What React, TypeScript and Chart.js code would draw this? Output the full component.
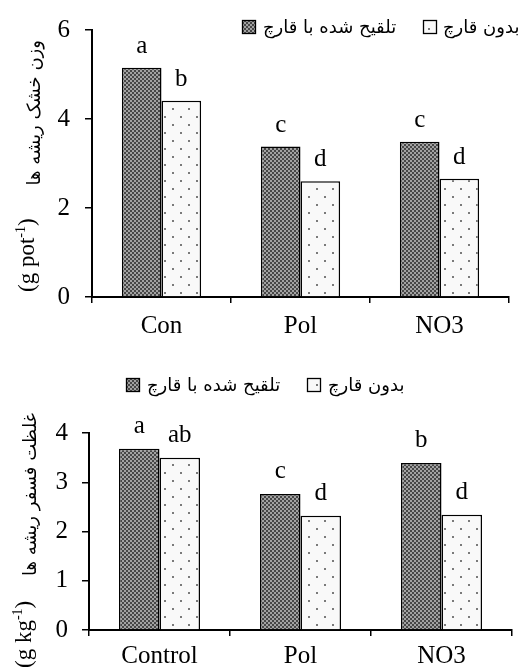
import React, { useEffect, useRef } from "react";
import { Chart, registerables } from "chart.js";

Chart.register(...registerables);

// Series names (legend)
const inoculatedName = "تلقیح شده با قارچ";
const uninoculatedName = "بدون قارچ";

// Upper panel: root dry weight (g pot-1)
const dryWeightCategories = ["Con", "Pol", "NO3"];
const dryWeightInoculated = [5.15, 3.38, 3.49];
const dryWeightUninoculated = [4.41, 2.6, 2.66];
const dryWeightLettersInoculated = ["a", "c", "c"];
const dryWeightLettersUninoculated = ["b", "d", "d"];
const dryWeightTitle = "وزن خشک ریشه ها";
const dryWeightUnit = ["(g pot", "-1", ")"];

// Lower panel: root phosphorus concentration (g kg-1)
const phosphorusCategories = ["Control", "Pol", "NO3"];
const phosphorusInoculated = [3.68, 2.76, 3.39];
const phosphorusUninoculated = [3.5, 2.32, 2.34];
const phosphorusLettersInoculated = ["a", "c", "b"];
const phosphorusLettersUninoculated = ["ab", "d", "d"];
const phosphorusTitle = "غلظت فسفر ریشه ها";
const phosphorusUnit = ["(g kg", "-1", ")"];

const SERIF = '"Liberation Serif", "Times New Roman", serif';
const SANS = '"DejaVu Sans", Tahoma, sans-serif';

function checkerPattern(ctx: CanvasRenderingContext2D) {
  const c = document.createElement("canvas");
  c.width = 4;
  c.height = 4;
  const g = c.getContext("2d")!;
  g.fillStyle = "#a2a2a2";
  g.fillRect(0, 0, 4, 4);
  g.fillStyle = "#474747";
  g.fillRect(0, 0, 2, 2);
  g.fillRect(2, 2, 2, 2);
  return ctx.createPattern(c, "repeat")!;
}

function dotPattern(ctx: CanvasRenderingContext2D) {
  const c = document.createElement("canvas");
  c.width = 16;
  c.height = 16;
  const g = c.getContext("2d")!;
  g.fillStyle = "#f9f9f9";
  g.fillRect(0, 0, 16, 16);
  g.fillStyle = "#7a7a7a";
  g.fillRect(4, 4, 2, 2);
  g.fillRect(12, 12, 2, 2);
  return ctx.createPattern(c, "repeat")!;
}

type PanelSpec = {
  categories: string[];
  inoculated: number[];
  uninoculated: number[];
  lettersInoculated: string[];
  lettersUninoculated: string[];
  title: string;
  unit: string[];
  yMax: number;
  step: number;
  pad: { top: number; right: number };
  yWidth: number;
  xHeight: number;
  yTickPad: number;
  xTickPad: number;
  letterGap: number;
  legend: { y: number; items: { box: number; text: number }[] };
  titleFa: { cx: number; top: number };
  titleUnit: { cx: number; bottom: number };
  categoryPercentage: number;
};

function makePlugins(spec: PanelSpec, fills: CanvasPattern[]) {
  const letters = {
    id: "sigLetters",
    afterDatasetsDraw(chart: Chart) {
      const ctx = chart.ctx;
      const sets = [spec.lettersInoculated, spec.lettersUninoculated];
      ctx.save();
      ctx.font = `25px ${SERIF}`;
      ctx.fillStyle = "#000";
      ctx.textAlign = "center";
      ctx.textBaseline = "alphabetic";
      sets.forEach((lbls, i) => {
        chart.getDatasetMeta(i).data.forEach((bar: any, j: number) => {
          ctx.fillText(lbls[j], bar.x, bar.y - spec.letterGap);
        });
      });
      ctx.restore();
    },
  };

  const legend = {
    id: "rtlLegend",
    afterDraw(chart: Chart) {
      const ctx = chart.ctx;
      const names = [inoculatedName, uninoculatedName];
      ctx.save();
      ctx.font = `18px ${SANS}`;
      ctx.textBaseline = "middle";
      ctx.direction = "rtl";
      ctx.textAlign = "left";
      spec.legend.items.forEach((it, i) => {
        const y = spec.legend.y;
        ctx.fillStyle = fills[i];
        ctx.fillRect(it.box, y - 7, 14, 14);
        ctx.strokeStyle = "#000";
        ctx.lineWidth = 1.3;
        ctx.strokeRect(it.box + 0.5, y - 6.5, 13, 13);
        ctx.fillStyle = "#000";
        ctx.fillText(names[i], it.text, y + 1);
      });
      ctx.restore();
    },
  };

  const yTitle = {
    id: "yTitle",
    afterDraw(chart: Chart) {
      const ctx = chart.ctx;
      ctx.save();
      ctx.fillStyle = "#000";
      ctx.textBaseline = "middle";
      // Persian part, reading bottom-to-top, ending at the top
      ctx.save();
      ctx.translate(spec.titleFa.cx, spec.titleFa.top);
      ctx.rotate(-Math.PI / 2);
      ctx.font = `18px ${SANS}`;
      ctx.direction = "rtl";
      ctx.textAlign = "right";
      ctx.fillText(spec.title, 0, 0);
      ctx.restore();
      // unit part with superscript
      ctx.save();
      ctx.translate(spec.titleUnit.cx, spec.titleUnit.bottom);
      ctx.rotate(-Math.PI / 2);
      ctx.direction = "ltr";
      ctx.textAlign = "left";
      ctx.font = `23px ${SERIF}`;
      let x = 0;
      ctx.fillText(spec.unit[0], x, 0);
      x += ctx.measureText(spec.unit[0]).width;
      ctx.font = `14px ${SERIF}`;
      ctx.fillText(spec.unit[1], x, -7);
      x += ctx.measureText(spec.unit[1]).width;
      ctx.font = `23px ${SERIF}`;
      ctx.fillText(spec.unit[2], x, 0);
      ctx.restore();
      ctx.restore();
    },
  };

  return [letters, legend, yTitle];
}

function buildChart(canvas: HTMLCanvasElement, spec: PanelSpec) {
  const ctx = canvas.getContext("2d")!;
  const fills = [checkerPattern(ctx), dotPattern(ctx)];
  const tickFont = { family: SERIF, size: 25 };
  return new Chart(ctx, {
    type: "bar",
    data: {
      labels: spec.categories,
      datasets: [
        {
          label: inoculatedName,
          data: spec.inoculated,
          backgroundColor: fills[0],
          borderColor: "#000",
          borderWidth: 1.5,
          barPercentage: 1,
          categoryPercentage: spec.categoryPercentage,
        },
        {
          label: uninoculatedName,
          data: spec.uninoculated,
          backgroundColor: fills[1],
          borderColor: "#000",
          borderWidth: 1.5,
          barPercentage: 1,
          categoryPercentage: spec.categoryPercentage,
        },
      ],
    },
    options: {
      responsive: false,
      animation: false,
      devicePixelRatio: 1,
      layout: { padding: { left: 0, right: spec.pad.right, top: spec.pad.top, bottom: 0 } },
      plugins: { legend: { display: false }, tooltip: { enabled: false } },
      scales: {
        x: {
          grid: {
            display: true,
            drawOnChartArea: false,
            drawTicks: true,
            tickLength: 6,
            color: "#000",
            lineWidth: 1.5,
            offset: true,
          },
          border: { display: true, color: "#000", width: 2 },
          ticks: { color: "#000", font: tickFont, padding: spec.xTickPad, maxRotation: 0, autoSkip: false },
          afterFit: (axis: any) => {
            axis.height = spec.xHeight;
          },
        },
        y: {
          min: 0,
          max: spec.yMax,
          grid: {
            display: true,
            drawOnChartArea: false,
            drawTicks: true,
            tickLength: 7,
            color: "#000",
            lineWidth: 1.5,
          },
          border: { display: true, color: "#000", width: 2 },
          ticks: { color: "#000", font: tickFont, padding: spec.yTickPad, stepSize: spec.step },
          afterFit: (axis: any) => {
            axis.width = spec.yWidth;
          },
        },
      },
    } as any,
    plugins: makePlugins(spec, fills) as any,
  });
}

const upperSpec: PanelSpec = {
  categories: dryWeightCategories,
  inoculated: dryWeightInoculated,
  uninoculated: dryWeightUninoculated,
  lettersInoculated: dryWeightLettersInoculated,
  lettersUninoculated: dryWeightLettersUninoculated,
  title: dryWeightTitle,
  unit: dryWeightUnit,
  yMax: 6,
  step: 2,
  pad: { top: 29, right: 10 },
  yWidth: 92,
  xHeight: 43,
  yTickPad: 15,
  xTickPad: 8,
  letterGap: 15,
  legend: { y: 27, items: [{ box: 242, text: 263 }, { box: 423, text: 443 }] },
  titleFa: { cx: 35, top: 40 },
  titleUnit: { cx: 28, bottom: 292 },
  categoryPercentage: 0.57,
};

const lowerSpec: PanelSpec = {
  categories: phosphorusCategories,
  inoculated: phosphorusInoculated,
  uninoculated: phosphorusUninoculated,
  lettersInoculated: phosphorusLettersInoculated,
  lettersUninoculated: phosphorusLettersUninoculated,
  title: phosphorusTitle,
  unit: phosphorusUnit,
  yMax: 4,
  step: 1,
  pad: { top: 93, right: 7 },
  yWidth: 89,
  xHeight: 39,
  yTickPad: 14,
  xTickPad: 5,
  letterGap: 16,
  legend: { y: 45, items: [{ box: 126, text: 147 }, { box: 307, text: 328 }] },
  titleFa: { cx: 31, top: 73 },
  titleUnit: { cx: 25, bottom: 328 },
  categoryPercentage: 0.575,
};

export default function App() {
  const upperRef = useRef<HTMLCanvasElement>(null);
  const lowerRef = useRef<HTMLCanvasElement>(null);

  useEffect(() => {
    const a = buildChart(upperRef.current!, upperSpec);
    const b = buildChart(lowerRef.current!, lowerSpec);
    return () => {
      a.destroy();
      b.destroy();
    };
  }, []);

  return (
    <div style={{ position: "absolute", left: 0, top: 0, width: 519, height: 669, background: "#fff", overflow: "hidden" }}>
      <canvas ref={upperRef} width={519} height={340} style={{ display: "block" }} />
      <canvas ref={lowerRef} width={519} height={329} style={{ display: "block" }} />
    </div>
  );
}
